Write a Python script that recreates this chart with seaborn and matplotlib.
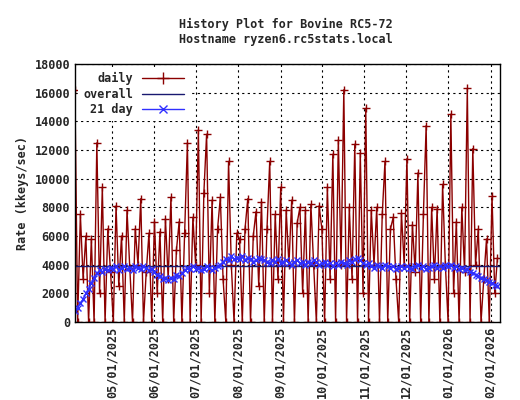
import matplotlib
matplotlib.use("Agg")
import matplotlib.pyplot as plt
import matplotlib.dates as mdates
import matplotlib.lines as mlines
import seaborn as sns
import pandas as pd
import numpy as np

start_date = "2025-04-04"
daily_values = [16200, 0, 7500, 3000, 6000, 0, 5800, 0, 12500, 2000, 9400, 0, 6500, 3500,
 0, 8100, 2500, 6000, 0, 7800, 3800, 0, 6500, 4000, 8600, 0, 3500, 6200, 0, 7000,
 2000, 6300, 0, 7200, 3000, 8700, 0, 5000, 7000, 0, 6200, 12500, 0, 7300, 4000,
 13400, 0, 9000, 13100, 2000, 8500, 0, 6500, 8700, 3000, 0, 11200, 4000, 0, 6200,
 5800, 0, 6500, 8600, 0, 6000, 7700, 2500, 8400, 0, 6500, 11200, 0, 7500, 3000, 9400,
 0, 7800, 4000, 8500, 0, 6900, 8000, 2000, 7800, 0, 8200, 4000, 0, 8100, 6500,
 0, 9400, 3000, 11700, 0, 12700, 4000, 16200, 0, 8000, 3000, 12400, 0, 11800, 2000,
 14900, 0, 7800, 4000, 8000, 0, 7500, 11200, 0, 6500, 7300, 3000, 0, 7600, 4000,
 11400, 0, 6800, 3500, 10400, 0, 7500, 13700, 0, 8000, 3000, 7900, 0, 9600, 4000, 0,
 14500, 2000, 7000, 0, 8000, 3500, 16300, 0, 12100, 4000, 6500, 0, 3000, 5800, 0,
 8800, 2000, 4500]
avg21_values = [800,1000,1300,1600,2000,2300,2700,3100,3400,3600,3500,3700,3600,
 3800,3700,3900,3600,3800,3900,3700,3800,3600,3900,3800,3700,3900,3800,3600,3700,3500,
 3300,3200,3000,3100,2900,3100,3000,3300,3200,3400,3600,3800,3700,3900,3700,
 3800,3600,3700,3900,3800,3600,3800,3900,4000,4200,4400,4300,4600,4400,4500,
 4400,4600,4300,4500,4400,4200,4300,4500,4400,4300,4200,4100,4300,4200,4400,4100,
 4200,4300,4100,4000,4200,4300,4100,4200,4000,4200,4100,4300,4200,4000,4100,
 4200,4000,4100,3900,4100,4000,4200,4100,4000,4300,4200,4400,4500,4300,4100,
 4000,4100,3900,3800,4000,3900,3800,4000,3900,3800,3900,3700,3800,3900,3800,
 3900,3800,3700,3900,4000,3800,3900,3700,3800,3900,4000,3800,3900,3800,4000,3900,
 4000,3800,3900,3700,3800,3600,3700,3500,3400,3300,3200,3100,3000,2900,2800,
 2700,2600,2500]
overall_value = 3900
tick_dates = ["2025-05-01","2025-06-01","2025-07-01","2025-08-01","2025-09-01",
              "2025-10-01","2025-11-01","2025-12-01","2026-01-01","2026-02-01"]

dates = pd.date_range(start_date, periods=len(daily_values), freq="2D")
df = pd.DataFrame({"date": dates, "daily": daily_values, "avg": avg21_values})

sns.set_style("white")
plt.rcParams['font.family'] = ['DejaVu Sans Mono']
fig = plt.figure(figsize=(5.2, 4.0), dpi=100)
ax = fig.add_axes([0.144, 0.195, 0.818, 0.645])
ax.grid(True, color="black", ls=(0, (2, 3)), lw=0.8)
ax.set_axisbelow(True)

sns.lineplot(data=df, x="date", y="daily", ax=ax, color="#8b0000", lw=1,
             marker="+", markersize=6, mew=1, mec="#8b0000", mfc="none")
ax.axhline(overall_value, color="#191970", lw=1, ls="-")
sns.lineplot(data=df, x="date", y="avg", ax=ax, color="#3030ff", lw=1,
             marker="x", markersize=5, mew=1, mec="#3030ff", mfc="none")

ax.set_xlim(pd.Timestamp("2025-04-04"), pd.Timestamp("2026-02-08"))
ax.set_ylim(0, 18000)
ax.set_yticks(range(0, 18001, 2000))
ax.set_xticks(pd.to_datetime(tick_dates))
ax.xaxis.set_major_formatter(mdates.DateFormatter("%m/%d/%Y"))
plt.setp(ax.get_xticklabels(), rotation=90, fontsize=8.5, fontweight="bold")
plt.setp(ax.get_yticklabels(), fontsize=8.5, fontweight="bold")
ax.set_xlabel("")
ax.set_ylabel("Rate (kkeys/sec)", fontsize=8.5, fontweight="bold")
for s in ax.spines.values():
    s.set_color("black"); s.set_linewidth(1)
ax.tick_params(direction="in", length=4, color="black")
handles = [
    mlines.Line2D([], [], color="#8b0000", lw=1, marker="+", markersize=8, mew=1),
    mlines.Line2D([], [], color="#191970", lw=1, ls="-"),
    mlines.Line2D([], [], color="#3030ff", lw=1, marker="x", markersize=6, mew=1),
]
leg = ax.legend(handles, ["daily", "overall", "21 day"], loc="upper left", frameon=True,
                fontsize=8.5, markerfirst=False, handlelength=3.5, borderaxespad=0.3,
                labelspacing=0.2, facecolor="white", edgecolor="none", framealpha=1,
                fancybox=False)
for t in leg.get_texts():
    t.set_fontweight("bold")
fig.text(0.55, 0.955, "History Plot for Bovine RC5-72\nHostname ryzen6.rc5stats.local",
         ha="center", va="top", fontsize=8.5, fontweight="bold")
fig.savefig("out.png", dpi=100)
